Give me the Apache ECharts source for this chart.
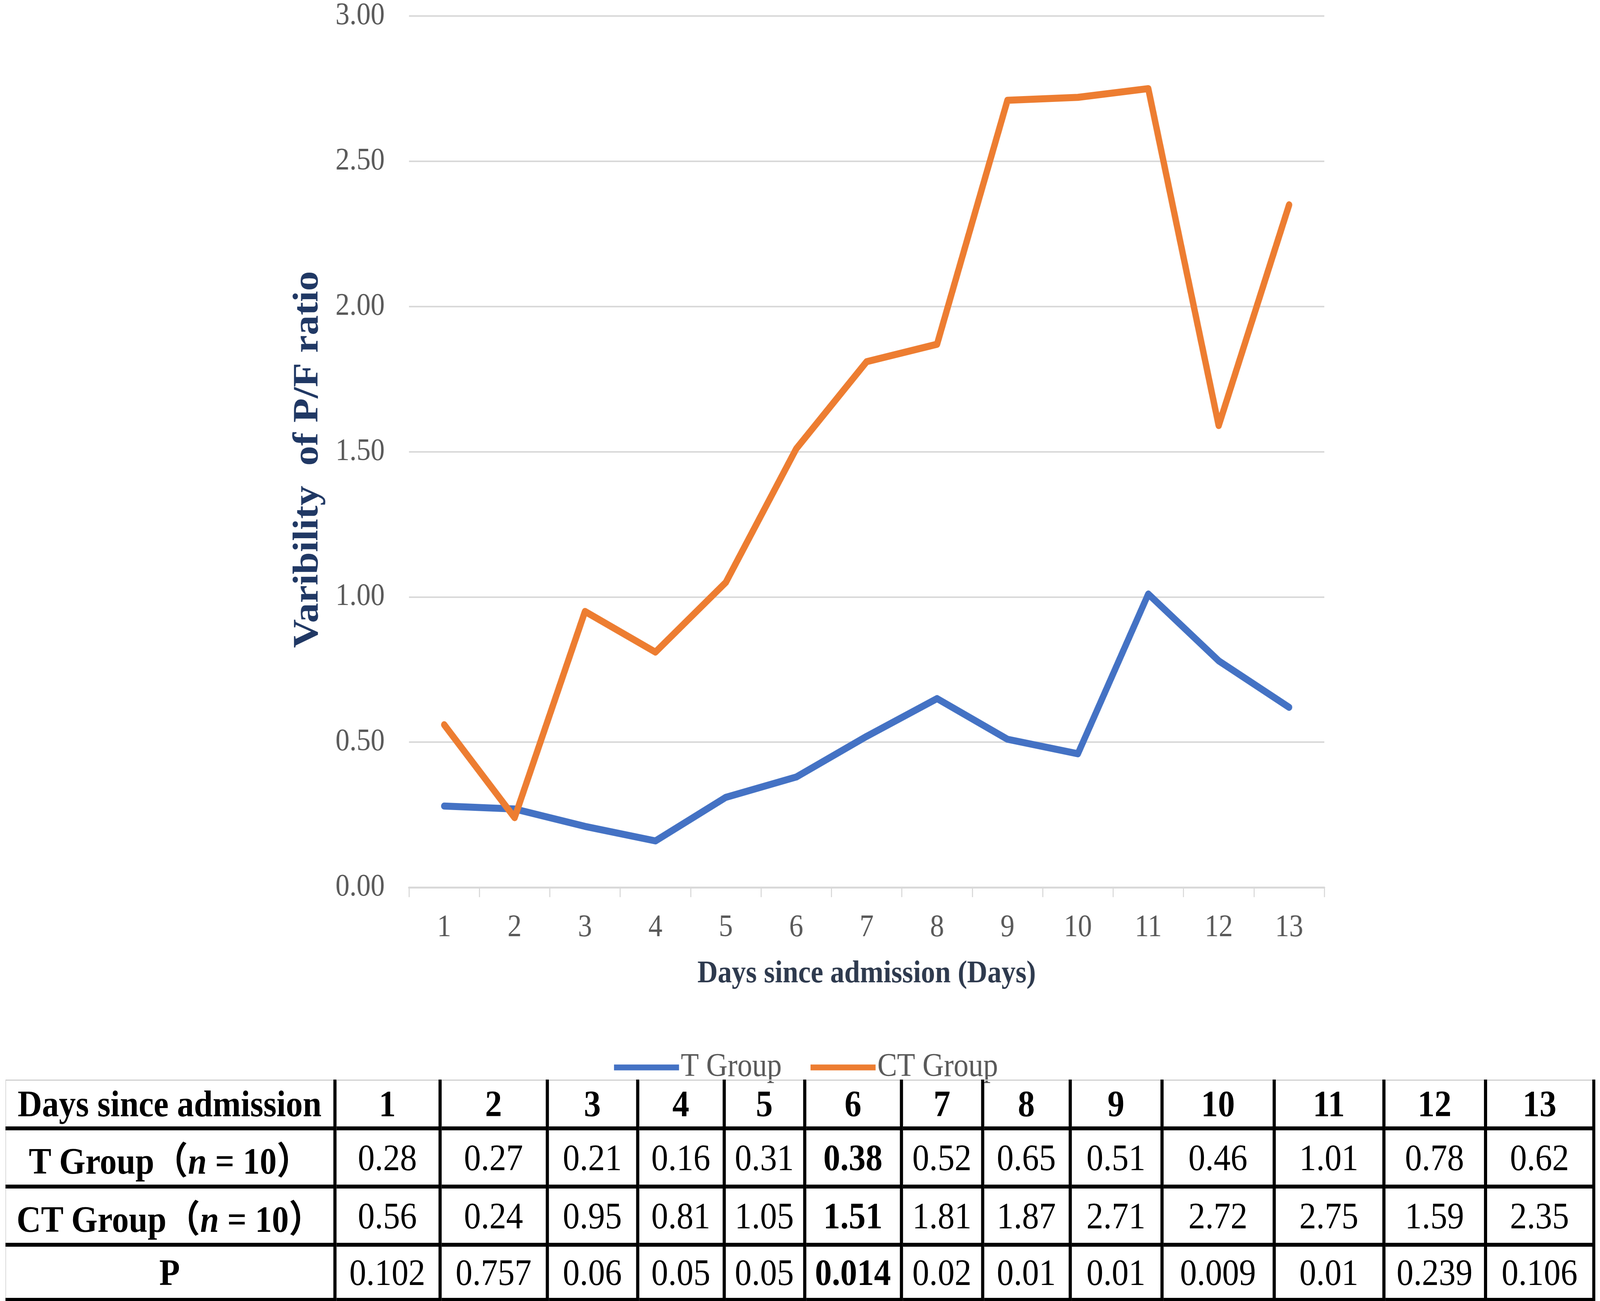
<!DOCTYPE html>
<html>
<head>
<meta charset="utf-8">
<script src="https://cdn.jsdelivr.net/npm/echarts@6/dist/echarts.min.js"></script>
<style>
    html, body { margin: 0; background: #fff; overflow: hidden; }
    #page { position: absolute; left: 0; top: 0; width: 4550px; height: 3331px; transform-origin: 0 0; }
    #box { position: absolute; left: 0; top: 0; width: 4550px; height: 3331px; }
    #tbl {
        position: absolute; left: 15px; top: 2764px;
        border-collapse: collapse; table-layout: fixed;
        font-family: "Liberation Serif", "Noto Sans CJK SC", serif;
        font-size: 96px; color: #000;
    }
    #tbl td {
        padding: 0; text-align: center; vertical-align: middle;
        white-space: nowrap; overflow: visible;
        border-left: 9px solid #000; border-right: 9px solid #000;
        border-top: 10px solid #000; border-bottom: 10px solid #000;
    }
    #tbl tr:first-child td { border-top: 3px solid #d0d0d0; font-weight: bold; }
    #tbl td:first-child { border-left: 2px solid #c8c8c8; font-weight: bold; }
    #tbl td.b { font-weight: bold; }
</style>
</head>
<body>
<div id="page">
    <div id="box"></div>
    <table id="tbl"></table>
</div>
<script>
// 数据
var days = ['1', '2', '3', '4', '5', '6', '7', '8', '9', '10', '11', '12', '13'];
var tGroup = [0.28, 0.27, 0.21, 0.16, 0.31, 0.38, 0.52, 0.65, 0.51, 0.46, 1.01, 0.78, 0.62];
var ctGroup = [0.56, 0.24, 0.95, 0.81, 1.05, 1.51, 1.81, 1.87, 2.71, 2.72, 2.75, 1.59, 2.35];
var pValues = ['0.102', '0.757', '0.06', '0.05', '0.05', '0.014', '0.02', '0.01', '0.01', '0.009', '0.01', '0.239', '0.106'];
var rowLabels = ['Days since admission', 'T Group（<i>n</i> = 10）', 'CT Group（<i>n</i> = 10）', 'P'];
var boldCol = 5; // 第6天加粗

var colWidths = [936, 299, 305, 257, 246, 229, 275, 231, 249, 261, 319, 312, 289, 308];
var rowHeights = [123, 145, 141, 141];

// 浏览器窗口最宽只有4096，整页横向压缩到窗口宽度
var sx = Math.min(1, window.innerWidth / 4550);
document.getElementById('page').style.transform = 'scaleX(' + sx + ')';

var myChart = echarts.init(document.getElementById('box'));

var serif = 'Liberation Serif';

var option = {
    backgroundColor: '#fff',
    animation: false,
    grid: {
        left: 1163,
        right: 784,
        top: 41,
        bottom: 1059
    },
    legend: {
        data: ['T Group', 'CT Group'],
        left: 1741,
        top: 2686,
        icon: 'rect',
        itemWidth: 185,
        itemHeight: 15,
        itemGap: 82,
        textStyle: {
            fontFamily: serif,
            fontSize: 84,
            color: '#595959'
        }
    },
    xAxis: {
        type: 'category',
        data: days,
        name: 'Days since admission (Days)',
        nameLocation: 'middle',
        nameGap: 182,
        nameTextStyle: {
            fontFamily: serif,
            fontWeight: 'bold',
            fontSize: 80,
            color: '#2E3A4E'
        },
        axisLine: { lineStyle: { color: '#d9d9d9', width: 5 } },
        axisTick: { show: true, length: 25, lineStyle: { color: '#d9d9d9', width: 3 } },
        axisLabel: {
            margin: 64,
            fontFamily: serif,
            fontSize: 80,
            color: '#595959'
        }
    },
    yAxis: {
        type: 'value',
        min: 0,
        max: 3,
        interval: 0.5,
        name: 'Varibility  of P/F ratio',
        nameLocation: 'middle',
        nameGap: 235,
        nameTextStyle: {
            fontFamily: serif,
            fontWeight: 'bold',
            fontSize: 102,
            color: '#203864',
            padding: [0, 40, 0, 0]
        },
        axisLine: { show: false },
        axisTick: { show: false },
        splitLine: { lineStyle: { color: '#d9d9d9', width: 4 } },
        axisLabel: {
            margin: 69,
            fontFamily: serif,
            fontSize: 80,
            color: '#595959',
            formatter: function (v) { return v.toFixed(2); }
        }
    },
    series: [{
        name: 'T Group',
        type: 'line',
        data: tGroup,
        symbol: 'none',
        lineStyle: { width: 18, color: '#4472C4', join: 'round', cap: 'round' },
        itemStyle: { color: '#4472C4' }
    }, {
        name: 'CT Group',
        type: 'line',
        data: ctGroup,
        symbol: 'none',
        lineStyle: { width: 18, color: '#ED7D31', join: 'round', cap: 'round' },
        itemStyle: { color: '#ED7D31' }
    }]
};

myChart.setOption(option);

// 表格
var rows = [days, tGroup.map(function (v) { return v.toFixed(2); }),
    ctGroup.map(function (v) { return v.toFixed(2); }), pValues];
var html = '<colgroup>';
colWidths.forEach(function (w) { html += '<col style="width:' + w + 'px">'; });
html += '</colgroup>';
rows.forEach(function (r, i) {
    html += '<tr style="height:' + rowHeights[i] + 'px"><td>' + rowLabels[i] + '</td>';
    r.forEach(function (v, j) {
        html += '<td' + (j === boldCol ? ' class="b"' : '') + '>' + v + '</td>';
    });
    html += '</tr>';
});
var tbl = document.getElementById('tbl');
tbl.style.width = colWidths.reduce(function (a, b) { return a + b; }, 0) + 'px';
tbl.innerHTML = html;
</script>
</body>
</html>
